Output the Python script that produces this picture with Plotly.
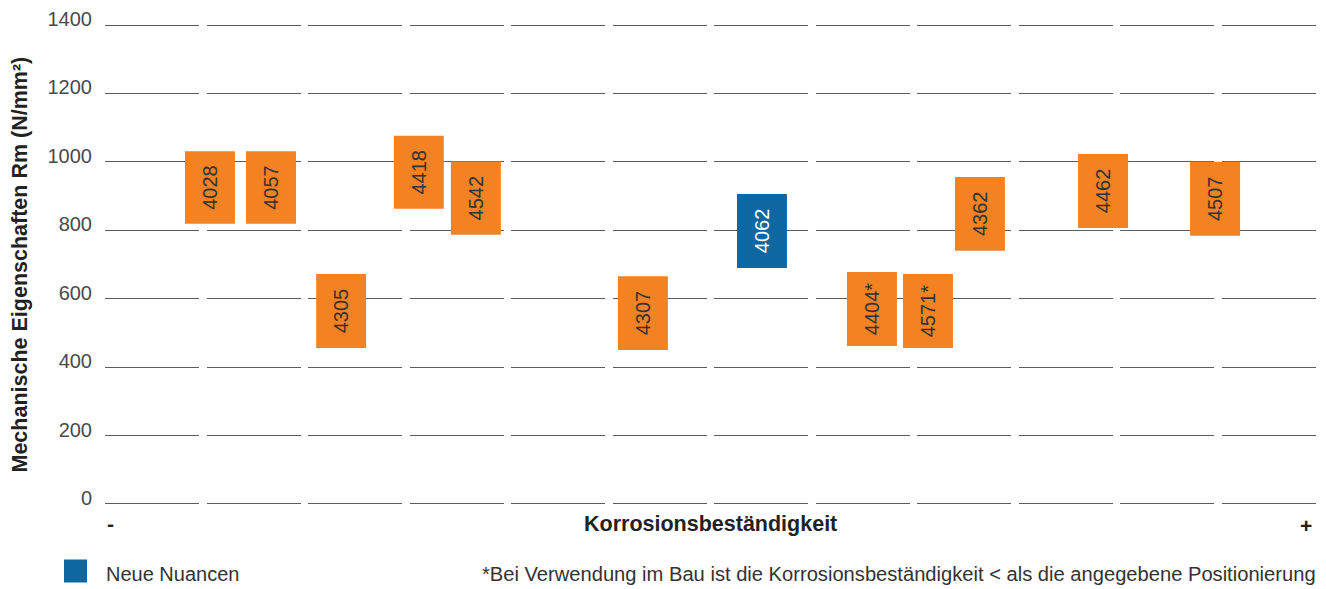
import plotly.graph_objects as go

# ---- data ----
grades = ["4028", "4057", "4305", "4418", "4542", "4307", "4062",
          "4404*", "4571*", "4362", "4462", "4507"]
# position along the corrosion-resistance axis (0 = "-", 12 = "+")
corrosion_pos = [1.04, 1.645, 2.34, 3.11, 3.675, 5.33, 6.51,
                 7.60, 8.155, 8.67, 9.89, 11.0]
rm_min = [819, 819, 456, 863, 787, 450, 690, 462, 456, 740, 807, 784]
rm_max = [1031, 1031, 672, 1076, 1001, 666, 906, 678, 672, 956, 1023, 1000]
is_new = [False, False, False, False, False, False, True,
          False, False, False, False, False]

y_ticks = [0, 200, 400, 600, 800, 1000, 1200, 1400]

ORANGE = "#F28222"
BLUE = "#0F67A2"
FONT = "Liberation Sans, Arial, Helvetica, sans-serif"

colors = [BLUE if n else ORANGE for n in is_new]
text_colors = ["#FFFFFF" if n else "#333333" for n in is_new]
heights = [hi - lo for lo, hi in zip(rm_min, rm_max)]

fig = go.Figure()
fig.add_trace(go.Bar(
    x=corrosion_pos,
    y=heights,
    base=rm_min,
    width=0.495,
    marker=dict(color=colors, line=dict(width=0)),
    text=grades,
    textposition="inside",
    insidetextanchor="middle",
    textangle=-90,
    textfont=dict(family=FONT, size=20, color=text_colors),
    constraintext="none",
    showlegend=False,
    hoverinfo="skip",
))

# the page body adds an 8px offset, so the figure is 8px smaller than the window
fig.update_layout(
    width=1318,
    height=581,
    margin=dict(l=97, r=10, t=16, b=84, pad=0, autoexpand=False),
    paper_bgcolor="white",
    plot_bgcolor="white",
    font=dict(family=FONT, color="#333333"),
    showlegend=False,
    xaxis=dict(
        range=[0, 12],
        showgrid=False,
        zeroline=False,
        showline=False,
        showticklabels=False,
        ticks="",
        fixedrange=True,
        automargin=False,
    ),
    yaxis=dict(
        range=[-3, 1403],
        tickvals=y_ticks,
        ticktext=[str(v) for v in y_ticks],
        showgrid=True,
        gridcolor="#5c5c5c",
        gridwidth=1,
        griddash="94px,7.5px",
        zeroline=False,
        showline=False,
        ticks="",
        ticklabelstandoff=12,
        ticklabelshift=-6,
        tickfont=dict(family=FONT, size=20, color="#4a4a4a"),
        fixedrange=True,
        automargin=False,
    ),
)

annotations = [
    dict(text="<b>Mechanische Eigenschaften Rm (N/mm²)</b>", xref="paper", yref="paper",
         x=0, y=0.5, xshift=-86, xanchor="center", yanchor="middle", textangle=-90,
         showarrow=False, font=dict(family=FONT, size=21.5, color="#222222")),
    dict(text="<b>Korrosionsbeständigkeit</b>", xref="paper", yref="paper",
         x=0.5, y=0, yshift=-19, xanchor="center", yanchor="middle",
         showarrow=False, font=dict(family=FONT, size=21.5, color="#222222")),
    dict(text="<b>-</b>", xref="paper", yref="paper",
         x=0, y=0, xshift=0, yshift=-18, xanchor="left", yanchor="middle",
         showarrow=False, font=dict(family=FONT, size=21, color="#222222")),
    dict(text="<b>+</b>", xref="paper", yref="paper",
         x=1, y=0, xshift=-2, yshift=-20, xanchor="right", yanchor="middle",
         showarrow=False, font=dict(family=FONT, size=21, color="#222222")),
    dict(text="Neue Nuancen", xref="paper", yref="paper",
         x=0, y=0, xshift=-1, yshift=-69, xanchor="left", yanchor="middle",
         showarrow=False, font=dict(family=FONT, size=20, color="#333333")),
    dict(text="*Bei Verwendung im Bau ist die Korrosionsbeständigkeit &lt; als die angegebene Positionierung",
         xref="paper", yref="paper",
         x=1, y=0, xshift=2, yshift=-69, xanchor="right", yanchor="middle",
         showarrow=False, font=dict(family=FONT, size=20.15, color="#333333")),
]
fig.update_layout(annotations=annotations)

# legend swatch for "Neue Nuancen"
fig.add_shape(type="rect", xref="paper", yref="paper",
              xsizemode="pixel", ysizemode="pixel",
              xanchor=0, yanchor=0,
              x0=-41, x1=-18, y0=-54.5, y1=-77.5,
              fillcolor=BLUE, line=dict(width=0))

fig.write_html("out.html")
